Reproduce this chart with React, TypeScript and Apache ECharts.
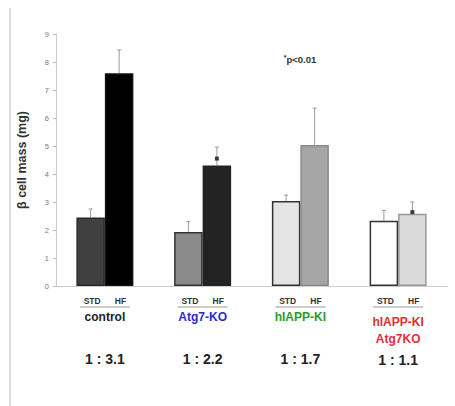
import React, { useEffect, useRef } from "react";
import * as echarts from "echarts";

const groups = ["control", "Atg7-KO", "hIAPP-KI", "hIAPP-KI\nAtg7KO"];
const groupColors = ["#222222", "#2b2bd0", "#2e9a2e", "#e0303a"];
const ratios = ["1 : 3.1", "1 : 2.2", "1 : 1.7", "1 : 1.1"];
const stdValues = [2.45, 1.93, 3.04, 2.33];
const stdErrTop = [2.75, 2.3, 3.25, 2.7];
const hfValues = [7.6, 4.3, 5.04, 2.58];
const hfErrTop = [8.43, 4.96, 6.35, 3.0];
const hfSignificant = [null, 4.55, null, 2.64];
const yTicks = [0, 1, 2, 3, 4, 5, 6, 7, 8, 9];

const stdFill = ["#404040", "#8a8a8a", "#e4e4e4", "#ffffff"];
const stdBorder = ["#2a2a2a", "#333333", "#333333", "#333333"];
const hfFill = ["#000000", "#232323", "#a6a6a6", "#dadada"];
const hfBorder = ["#111111", "#222222", "#8a8a8a", "#999999"];

const FONT = "'Liberation Sans', Arial, sans-serif";
const BAR_W = 28.5;

export default function App() {
  const ref = useRef<HTMLDivElement>(null);
  useEffect(() => {
    if (!ref.current) return;
    const chart = echarts.init(ref.current, undefined, { renderer: "svg" });

    const errRender = (offsetSign: number) => (params: any, api: any) => {
      const idx = api.value(0);
      const v = api.value(1);
      const top = api.value(2);
      const c0 = api.coord([idx, v]);
      const c1 = api.coord([idx, top]);
      const x = c0[0] + offsetSign * (BAR_W / 2);
      return {
        type: "group",
        children: [
          { type: "line", shape: { x1: x, y1: c0[1], x2: x, y2: c1[1] }, style: { stroke: "#9a9a9a", lineWidth: 1 } },
          { type: "line", shape: { x1: x - 2, y1: c1[1], x2: x + 2, y2: c1[1] }, style: { stroke: "#9a9a9a", lineWidth: 1 } },
        ],
      };
    };

    const labelFormatter = (value: string, index: number) => {
      const name = groups[index];
      const color = `c${index}`;
      if (name.includes("\n")) {
        const [a, b] = name.split("\n");
        return `{sh|STD      HF}\n{${color}a|${a}}\n{${color}b|${b}}\n{r2|${ratios[index]}}`;
      }
      return `{sh|STD      HF}\n{${color}|${name}}\n{sp| }\n{r|${ratios[index]}}`;
    };

    const rich: any = {
      sh: { fontSize: 8.5, fontWeight: "bold", color: "#333", lineHeight: 14, fontFamily: FONT },
      sp: { fontSize: 6, lineHeight: 24 },
      r: { fontSize: 14, fontWeight: "bold", color: "#222", lineHeight: 18, fontFamily: FONT },
      r2: { fontSize: 14, fontWeight: "bold", color: "#222", lineHeight: 36, fontFamily: FONT },
    };
    groupColors.forEach((c, i) => {
      rich[`c${i}`] = { fontSize: 12, fontWeight: "bold", color: c, lineHeight: 18, fontFamily: FONT };
      rich[`c${i}a`] = { fontSize: 12, fontWeight: "bold", color: c, lineHeight: 28, fontFamily: FONT };
      rich[`c${i}b`] = { fontSize: 12, fontWeight: "bold", color: c, lineHeight: 6, fontFamily: FONT };
    });

    const option: any = {
      animation: false,
      textStyle: { fontFamily: FONT },
      grid: { left: 56, right: 8, top: 34, bottom: 120, containLabel: false },
      xAxis: {
        type: "category",
        data: groups,
        axisLine: { lineStyle: { color: "#cccccc", width: 1 } },
        axisTick: { show: false },
        axisLabel: { interval: 0, margin: 8, formatter: labelFormatter, rich, align: "center" },
      },
      yAxis: {
        type: "value",
        min: 0,
        max: 9,
        interval: 1,
        name: "β cell mass (mg)",
        nameLocation: "middle",
        nameGap: 28,
        nameTextStyle: { fontSize: 12.5, fontWeight: "bold", color: "#333", fontFamily: FONT },
        axisLine: { show: true, lineStyle: { color: "#cccccc" } },
        axisTick: { show: true, length: 3, lineStyle: { color: "#bbbbbb" } },
        axisLabel: { fontSize: 7.5, color: "#777", margin: 7, formatter: (v: number) => (yTicks.includes(v) ? String(v) : "") },
        splitLine: { show: false },
      },
      series: [
        {
          type: "bar",
          name: "STD",
          barWidth: BAR_W,
          barGap: "0%",
          data: stdValues.map((v, i) => ({
            value: v,
            itemStyle: { color: stdFill[i], borderColor: stdBorder[i], borderWidth: 1.5 },
          })),
        },
        {
          type: "bar",
          name: "HF",
          barWidth: BAR_W,
          barGap: "0%",
          data: hfValues.map((v, i) => ({
            value: v,
            itemStyle: { color: hfFill[i], borderColor: hfBorder[i], borderWidth: 1.5 },
          })),
        },
        {
          type: "custom",
          renderItem: errRender(-1),
          data: stdValues.map((v, i) => [i, v, stdErrTop[i]]),
          z: 1,
        },
        {
          type: "custom",
          renderItem: errRender(1),
          data: hfValues.map((v, i) => [i, v, hfErrTop[i]]),
          z: 1,
        },
        {
          type: "scatter",
          symbol: "rect",
          symbolSize: 4,
          symbolOffset: [BAR_W / 2, 0],
          itemStyle: { color: "#111" },
          data: hfSignificant.map((v, i) => (v == null ? [i, "-"] : [i, v])),
          z: 5,
        },
      ],
    };
    chart.setOption(option);

    const underlines: any[] = groups.map((_, i) => {
      const c = chart.convertToPixel({ xAxisIndex: 0 }, i) as number;
      return {
        type: "line",
        shape: { x1: c - 25, y1: 307, x2: c + 25, y2: 307 },
        style: { stroke: "#999", lineWidth: 1 },
      };
    });
    chart.setOption({
      graphic: [
        { type: "line", shape: { x1: 10, y1: 8, x2: 10, y2: 406 }, style: { stroke: "#dddddd", lineWidth: 2 } },
        ...underlines,
        {
          type: "text",
          x: 300,
          y: 59,
          style: {
            text: "{s|*}{t|p<0.01}",
            align: "center",
            verticalAlign: "middle",
            rich: {
              s: { fontSize: 7, fontWeight: "bold", fill: "#333", verticalAlign: "top", padding: [0, 0, 4, 0] },
              t: { fontSize: 9.5, fontWeight: "bold", fill: "#333", fontFamily: FONT },
            },
          },
        },
      ],
    });

    return () => chart.dispose();
  }, []);
  return <div ref={ref} style={{ width: 455, height: 406, position: "absolute", left: 0, top: 0 }} />;
}
